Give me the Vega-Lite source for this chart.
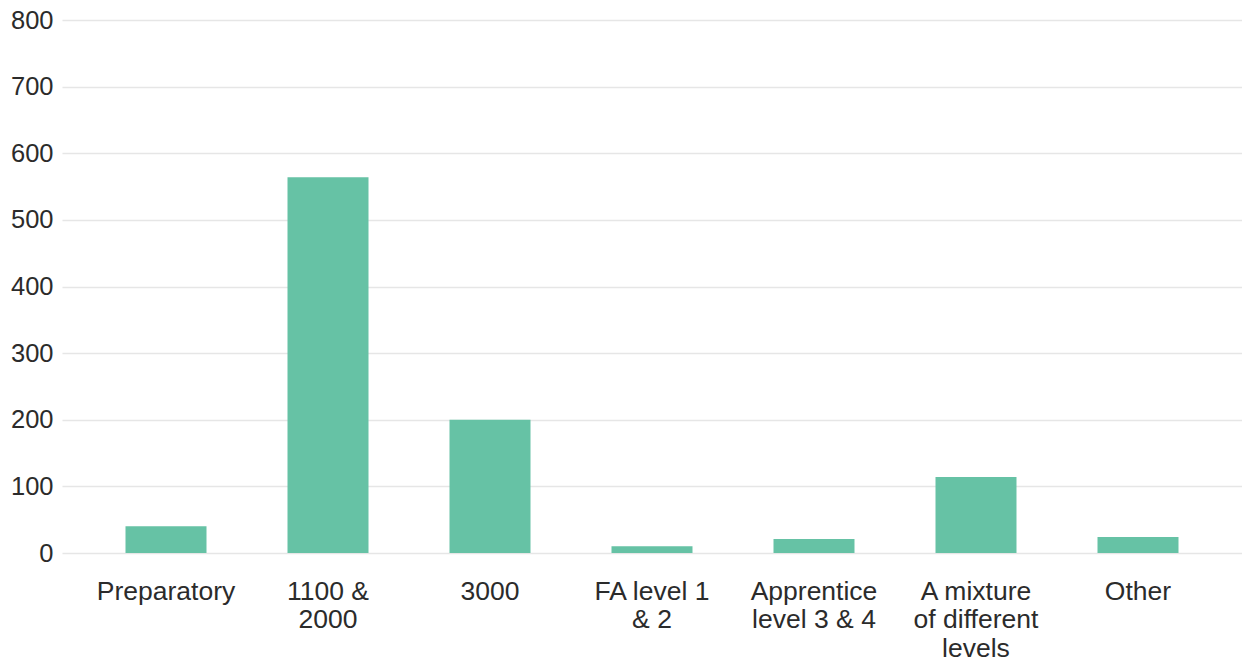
{
  "$schema": "https://vega.github.io/schema/vega-lite/v6.json",
  "width": 1180,
  "height": 533,
  "autosize": {"type": "none"},
  "padding": {"left": 62, "top": 20, "right": 0, "bottom": 111},
  "background": "white",
  "config": {"view": {"stroke": null}, "font": "Liberation Sans"},
  "data": {
    "values": [
      {"level": "Preparatory", "count": 40},
      {"level": "1100 & 2000", "count": 564},
      {"level": "3000", "count": 200},
      {"level": "FA level 1 & 2", "count": 10},
      {"level": "Apprentice level 3 & 4", "count": 21},
      {"level": "A mixture of different levels", "count": 114},
      {"level": "Other", "count": 24}
    ]
  },
  "mark": {"type": "bar", "color": "#66c2a5"},
  "encoding": {
    "x": {
      "field": "level",
      "type": "nominal",
      "sort": null,
      "scale": {"paddingInner": 0.5, "paddingOuter": 0.392},
      "axis": {
        "title": null,
        "labelAngle": 0,
        "domain": false,
        "ticks": false,
        "labelFont": "Liberation Sans",
        "labelFontSize": 26.5,
        "labelColor": "#2b2b2b",
        "labelPadding": 25,
        "labelLineHeight": 28.5,
        "labelLimit": 300,
        "labelExpr": "datum.value == '1100 & 2000' ? ['1100 &', '2000'] : datum.value == 'FA level 1 & 2' ? ['FA level 1', '& 2'] : datum.value == 'Apprentice level 3 & 4' ? ['Apprentice', 'level 3 & 4'] : datum.value == 'A mixture of different levels' ? ['A mixture', 'of different', 'levels'] : datum.value"
      }
    },
    "y": {
      "field": "count",
      "type": "quantitative",
      "scale": {"domain": [0, 800], "nice": false},
      "axis": {
        "title": null,
        "values": [0, 100, 200, 300, 400, 500, 600, 700, 800],
        "domain": false,
        "ticks": false,
        "labelFont": "Liberation Sans",
        "labelFontSize": 25.5,
        "labelColor": "#2b2b2b",
        "labelPadding": 9,
        "gridColor": "#e6e6e6",
        "gridWidth": 1.5
      }
    }
  }
}
